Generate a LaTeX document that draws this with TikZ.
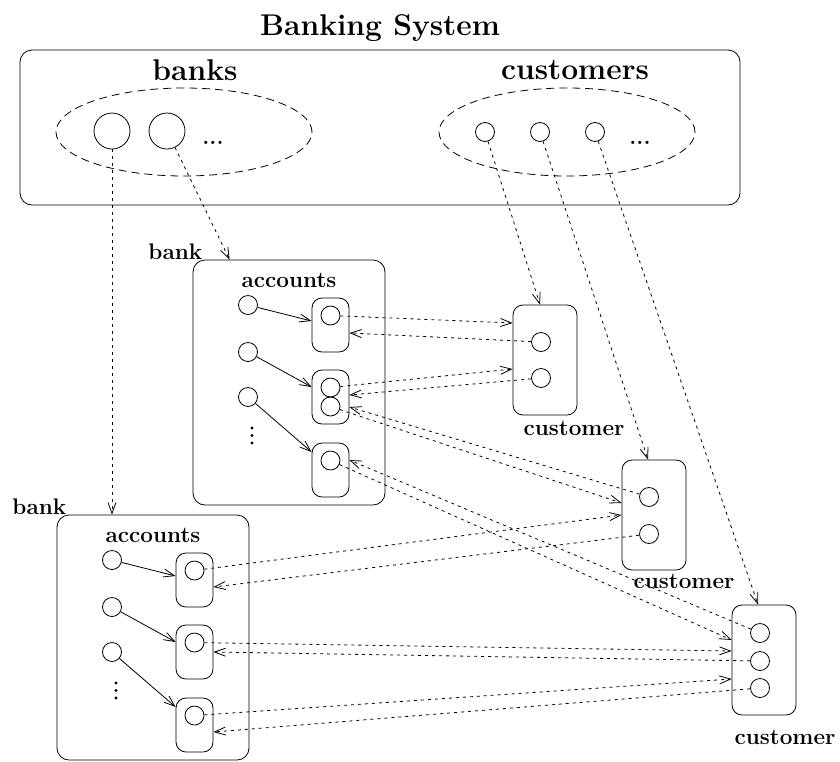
\documentclass[tikz,border=0pt]{standalone}
\usepackage{fontspec}
\usetikzlibrary{arrows.meta}

\tikzset{
    bigtext/.style={font=\fontsize{30}{34}\selectfont\bfseries},
    smalltext/.style={font=\fontsize{22.5}{26}\selectfont\bfseries},
    obj/.style={draw, circle, minimum size=19pt, inner sep=0pt},
    rbox/.style={draw, rounded corners=10pt, inner sep=0pt},
    setline/.style={dash pattern=on 8pt off 5pt},
    link/.style={dash pattern=on 3pt off 4pt, -{Straight Barb[length=11pt,width=8pt]}},
    holds/.style={-{Straight Barb[length=11pt,width=8pt]}}
}

\begin{document}
\begin{tikzpicture}[x=1pt, y=-1pt, line width=0.8pt]
        \useasboundingbox (0,0) rectangle (840,761);

        % the whole system
        \node[bigtext] (title) at (380,28) {Banking System};
        \node[rbox, rounded corners=12pt, minimum width=720pt, minimum height=155pt] (sys) at (380,127.5) {};
        \node[bigtext] (banks) at (195,70) {banks};
        \node[bigtext] (custs) at (575,70) {customers};
        \draw[setline] (184,132) ellipse [x radius=128pt, y radius=44pt];
        \draw[setline] (567,132) ellipse [x radius=128pt, y radius=44pt];
        \node[obj, minimum size=36pt] (bk1) at (112,131) {};
        \node[obj, minimum size=36pt] (bk2) at (167,131) {};
        \node[smalltext] (bkdots) at (213,143) {...};
        \foreach \c/\x in {1/485, 2/540, 3/595}{
            \node[obj] (cu\c) at (\x,132) {};
        }
        \node[smalltext] (cudots) at (640,143) {...};

        % two banks with their accounts
        \foreach \bk/\bx/\by in {A/193/260, B/57/515}{
            \begin{scope}[shift={(\bx,\by)}]
                \node[rbox, rounded corners=12pt, minimum width=192pt, minimum height=245pt] (bank\bk) at (96,122.5) {};
                \node[smalltext, anchor=base east] (lbl\bk) at (13,-1) {bank};
                \node[smalltext] (accts\bk) at (96,20) {accounts};
                \foreach \d in {168, 175.5, 183}{
                    \fill (59,\d) circle (1.7pt);
                }
                \foreach \i/\ky/\ay/\sh in {1/45/65/4, 2/92/137/10, 3/137/210/18}{
                    \node[obj] (key\bk\i) at (55,\ky) {};
                    \node[rbox, minimum width=37pt, minimum height=54pt] (acc\bk\i) at (137.5,\ay) {};
                    \node[obj] (o\bk\i) at (137.5,\ay-9.5) {};
                    \draw[holds] (key\bk\i) -- ([yshift=\sh pt]acc\bk\i.west);
                }
            \end{scope}
        }
        \node[obj] (oA2b) at ([yshift=-9.5pt]accA2.center) {};

        % customers
        \node[rbox, minimum width=64pt, minimum height=110pt] (P) at (545,360) {};
        \node[obj] (pc1) at (541,342) {};
        \node[obj] (pc2) at (541,378) {};
        \node[smalltext] (plbl) at (574,428) {customer};

        \node[rbox, minimum width=64pt, minimum height=110pt] (Q) at (654,515) {};
        \node[obj] (qc1) at (649,497) {};
        \node[obj] (qc2) at (649,534) {};
        \node[smalltext] (qlbl) at (684,581) {customer};

        \node[rbox, minimum width=64pt, minimum height=110pt] (R) at (764,660) {};
        \node[obj] (rc1) at (760,633) {};
        \node[obj] (rc2) at (760,661) {};
        \node[obj] (rc3) at (760,688) {};
        \node[smalltext] (rlbl) at (785,737) {customer};

        % references from the system
        \draw[link] (bk1) -- (bk1 |- bankB.north);
        \draw[link] (bk2) -- ([xshift=37pt]bankA.north west);
        \draw[link] (cu1) -- ([xshift=-5pt]P.north);
        \draw[link] (cu2) -- ([xshift=-6pt]Q.north);
        \draw[link] (cu3) -- ([xshift=-6pt]R.north);

        % account <-> customer
        \draw[link] (oA1) -- ([yshift=37pt]P.west);
        \draw[link] (pc1) -- ([yshift=-8pt]accA1.east);
        \draw[link] (oA2) -- ([yshift=-9pt]P.west);
        \draw[link] (pc2) -- ([yshift=2pt]accA2.east);
        \draw[link] (oA2b) -- ([yshift=12pt]Q.west);
        \draw[link] (qc1) -- ([yshift=-10pt]accA2.east);
        \draw[link] (oB1) -- (Q.west);
        \draw[link] (qc2) -- ([yshift=-7pt]accB1.east);
        \draw[link] (oA3) -- ([yshift=20pt]R.west);
        \draw[link] (rc1) -- ([yshift=10pt]accA3.east);
        \draw[link] (oB2) -- ([yshift=9pt]R.west);
        \draw[link] (rc2) -- (accB2.east);
        \draw[link] (oB3) -- ([yshift=-19pt]R.west);
        \draw[link] (rc3) -- ([yshift=-7pt]accB3.east);
    \end{tikzpicture}
\end{document}
